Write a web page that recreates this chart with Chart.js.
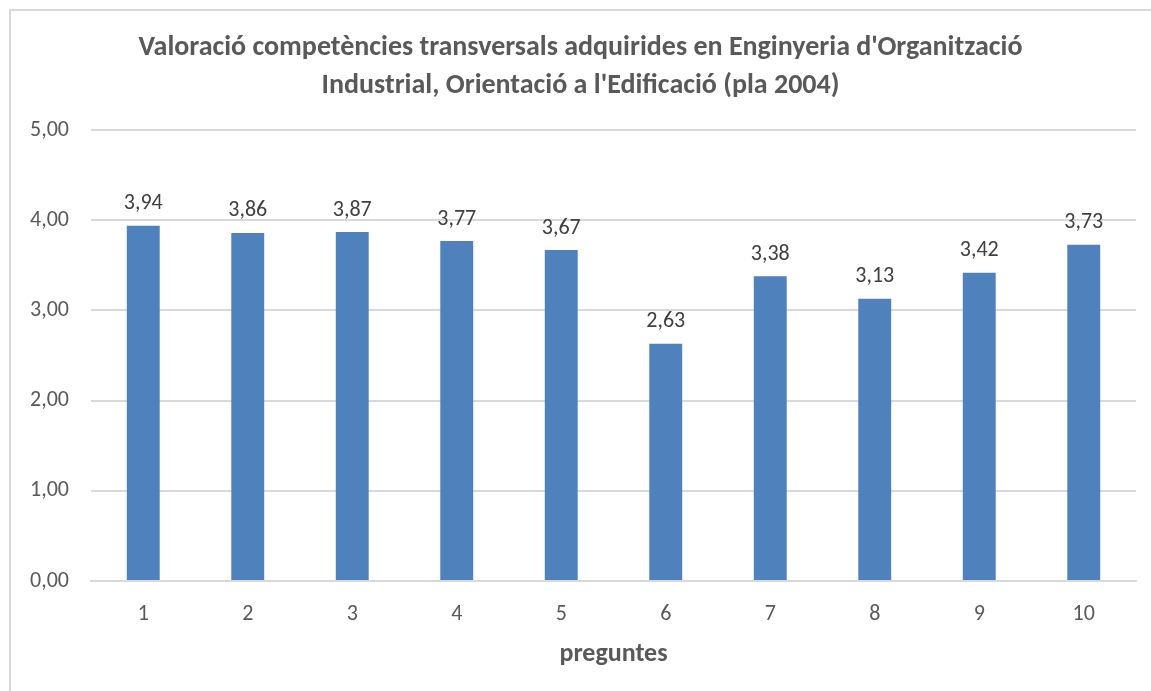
<!DOCTYPE html>
<html>
<head>
<meta charset="utf-8">
<script src="https://cdn.jsdelivr.net/npm/chart.js"></script>
<style>
  body { margin: 0; background: #fff; overflow: hidden; }
  #frame {
    position: absolute; left: 9px; top: 9px;
    width: 1160px; height: 700px;
    border: 2px solid #d9d9d9; box-sizing: border-box;
  }
  #chart { position: absolute; left: 10px; top: 10px; }
</style>
</head>
<body>
<div id="frame"></div>
<canvas id="chart" width="1152" height="700"></canvas>
<script>
  const categories = ["1", "2", "3", "4", "5", "6", "7", "8", "9", "10"];
  const values = [3.94, 3.86, 3.87, 3.77, 3.67, 2.63, 3.38, 3.13, 3.42, 3.73];
  const titleLines = [
    "Valoració competències transversals adquirides en Enginyeria d'Organització",
    "Industrial, Orientació a l'Edificació (pla 2004)",
  ];
  const FONT = "Carlito, Lato, 'Open Sans', sans-serif";

  const fmt = (v) => v.toFixed(2).replace(".", ",");

  // draw the value above each bar
  const valueLabels = {
    id: "valueLabels",
    afterDatasetsDraw(chart) {
      const ctx = chart.ctx;
      const meta = chart.getDatasetMeta(0);
      ctx.save();
      ctx.font = "22px " + FONT;
      ctx.fillStyle = "#404040";
      ctx.textAlign = "center";
      ctx.textBaseline = "middle";
      meta.data.forEach((bar, i) => {
        ctx.fillText(fmt(values[i]), bar.x, bar.y - 22);
      });
      ctx.restore();
    },
  };

  new Chart(document.getElementById("chart"), {
    type: "bar",
    data: {
      labels: categories,
      datasets: [
        {
          data: values,
          backgroundColor: "#4f81bd",
          barPercentage: 0.315,
          categoryPercentage: 1,
        },
      ],
    },
    options: {
      responsive: false,
      animation: false,
      layout: { padding: { left: 15, right: 26, top: 0, bottom: 14 } },
      plugins: {
        legend: { display: false },
        tooltip: { enabled: false },
        title: {
          display: true,
          text: titleLines,
          color: "#595959",
          font: { family: FONT, size: 28, weight: "bold", lineHeight: 1.36 },
          padding: { top: 19, bottom: 25 },
        },
      },
      scales: {
        x: {
          grid: { display: false, drawTicks: false },
          border: { color: "#d9d9d9", width: 2 },
          ticks: {
            color: "#595959",
            font: { family: FONT, size: 22 },
            padding: 20,
          },
          title: {
            display: true,
            text: "preguntes",
            color: "#595959",
            font: { family: FONT, size: 26, weight: "bold" },
            padding: { top: 8, bottom: 26 },
          },
          afterFit: (scale) => {
            scale.height = 115;
          },
        },
        y: {
          min: 0,
          max: 5,
          ticks: {
            stepSize: 1,
            color: "#595959",
            font: { family: FONT, size: 22 },
            padding: 22,
            callback: (v) => fmt(v),
          },
          grid: { color: "#d9d9d9", lineWidth: 2, drawTicks: false },
          border: { display: false },
          afterFit: (scale) => {
            scale.width = 66;
          },
        },
      },
    },
    plugins: [valueLabels],
  });
</script>
</body>
</html>
